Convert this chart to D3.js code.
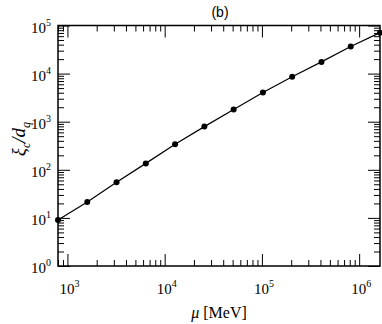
<!DOCTYPE html>
<html>
<head>
<meta charset="utf-8">
<script src="https://cdn.jsdelivr.net/npm/d3@7"></script>
<style>
  body { margin: 0; background: #fff; }
  .axis line { stroke: #000; stroke-width: 1; }
  .axis path { display: none; }
  text { font-family: 'Liberation Serif', 'Times New Roman', serif; fill: #000; }
</style>
</head>
<body>
<div id="chart"></div>
<script>
// data
const muValues = [800, 1600, 3200, 6400, 12800, 25600, 51200, 102400, 204800, 409600, 819200, 1638400]
const xiValues = [9, 21.5, 55, 136, 338, 790, 1800, 4050, 8600, 17500, 36500, 71000]

const xMajorTicks = [1e3, 1e4, 1e5, 1e6]
const xTickExponents = ['3', '4', '5', '6']
const yMajorTicks = [1, 10, 100, 1e3, 1e4, 1e5]
const yTickExponents = ['0', '1', '2', '3', '4', '5']

var width = 382
var height = 324

var svg = d3.select('#chart')
  .append('svg')
  .attr('width', width)
  .attr('height', height)

const xPositionScale = d3.scaleLog().domain([800, 1638400]).range([58, 380])
const yPositionScale = d3.scaleLog().domain([1, 1e5]).range([266, 25.5])

const plotLeft = 58, plotRight = 380, plotTop = 25.5, plotBottom = 266

// minor ticks = every 1..9 multiple that isn't a power of ten
var xMinor = xPositionScale.ticks().filter(d => !xMajorTicks.includes(d))
var yMinor = yPositionScale.ticks().filter(d => !yMajorTicks.includes(d))

function addAxis(axisFn, scale, values, size, tx, ty) {
  svg.append('g')
    .attr('class', 'axis')
    .attr('transform', 'translate(' + tx + ',' + ty + ')')
    .call(axisFn(scale).tickValues(values).tickSize(size).tickFormat(''))
}

// ticks point inward on all four sides
addAxis(d3.axisBottom, xPositionScale, xMinor, -6, 0, plotBottom)
addAxis(d3.axisBottom, xPositionScale, xMajorTicks, -12, 0, plotBottom)
addAxis(d3.axisTop, xPositionScale, xMinor, -6, 0, plotTop)
addAxis(d3.axisTop, xPositionScale, xMajorTicks, -12, 0, plotTop)
addAxis(d3.axisLeft, yPositionScale, yMinor, -6, plotLeft, 0)
addAxis(d3.axisLeft, yPositionScale, yMajorTicks, -12, plotLeft, 0)
addAxis(d3.axisRight, yPositionScale, yMinor, -6, plotRight, 0)
addAxis(d3.axisRight, yPositionScale, yMajorTicks, -12, plotRight, 0)

// frame
svg.append('rect')
  .attr('x', plotLeft)
  .attr('y', plotTop)
  .attr('width', plotRight - plotLeft)
  .attr('height', plotBottom - plotTop)
  .attr('fill', 'none')
  .attr('stroke', '#000')
  .attr('stroke-width', 1.5)

// x tick labels
var xLabels = svg.selectAll('.x-label')
  .data(xMajorTicks)
  .enter()
  .append('text')
  .attr('class', 'x-label')
  .attr('x', d => xPositionScale(d) + 2)
  .attr('y', 294)
  .attr('font-size', 15)
  .attr('text-anchor', 'middle')
xLabels.append('tspan').text('10')
xLabels.append('tspan')
  .attr('dy', -7)
  .attr('font-size', 10)
  .text((d, i) => xTickExponents[i])

// y tick labels
var yLabels = svg.selectAll('.y-label')
  .data(yMajorTicks)
  .enter()
  .append('text')
  .attr('class', 'y-label')
  .attr('x', 51)
  .attr('y', d => yPositionScale(d) + 7)
  .attr('font-size', 15)
  .attr('text-anchor', 'end')
yLabels.append('tspan').text('10')
yLabels.append('tspan')
  .attr('dy', -7)
  .attr('font-size', 10)
  .text((d, i) => yTickExponents[i])

// line + points
var line = d3.line()
  .x((d, i) => xPositionScale(muValues[i]))
  .y(d => yPositionScale(d))

svg.append('path')
  .datum(xiValues)
  .attr('d', line)
  .attr('fill', 'none')
  .attr('stroke', '#000')
  .attr('stroke-width', 1.2)

svg.selectAll('.dot')
  .data(xiValues)
  .enter()
  .append('circle')
  .attr('class', 'dot')
  .attr('cx', (d, i) => xPositionScale(muValues[i]))
  .attr('cy', d => yPositionScale(d))
  .attr('r', 3)
  .attr('fill', '#000')

// axis titles
var xTitle = svg.append('text')
  .attr('x', 219)
  .attr('y', 318)
  .attr('font-size', 16)
  .attr('text-anchor', 'middle')
xTitle.append('tspan').attr('font-style', 'italic').text('μ')
xTitle.append('tspan').text(' [MeV]')

var yTitle = svg.append('text')
  .attr('transform', 'translate(25,139) rotate(-90)')
  .attr('font-size', 19)
  .attr('font-style', 'italic')
  .attr('text-anchor', 'middle')
yTitle.append('tspan').text('ξ')
yTitle.append('tspan').attr('dy', 5).attr('font-size', 12).text('c')
yTitle.append('tspan').attr('dy', -5).text('/d')
yTitle.append('tspan').attr('dy', 5).attr('font-size', 12).text('q')

// panel label
svg.append('text')
  .attr('x', 220)
  .attr('y', 17)
  .attr('font-size', 14)
  .attr('text-anchor', 'middle')
  .style('font-family', "'Liberation Sans', Arial, sans-serif")
  .text('(b)')
</script>
</body>
</html>
